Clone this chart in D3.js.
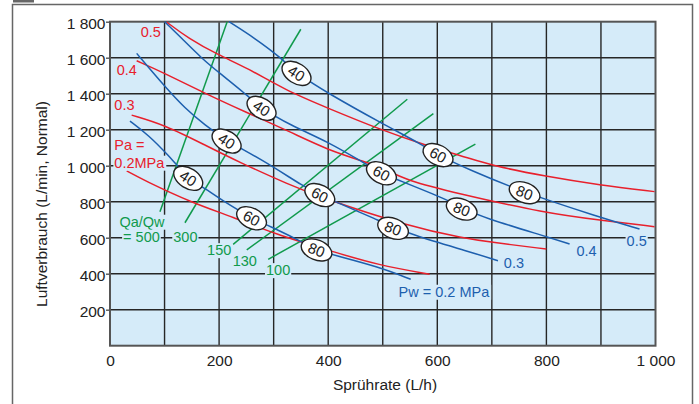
<!DOCTYPE html>
<html>
<head>
<meta charset="utf-8">
<script src="https://cdn.jsdelivr.net/npm/d3@7"></script>
<style>
  body { margin: 0; background: #fff; }
  svg { display: block; font-family: "Liberation Sans", Arial, sans-serif; }
</style>
</head>
<body>
<svg id="chart" width="699" height="404"></svg>
<script>
// ---- data (x = Sprührate L/h, y = Luftverbrauch L/min) ----
const xTicks = [0, 200, 400, 600, 800, 1000];
const yTicks = [200, 400, 600, 800, 1000, 1200, 1400, 1600, 1800];

// water pressure curves (blue)
const pwLevels = ["0.2", "0.3", "0.4", "0.5"];
const pw02 = [[36.6,1248],[70.1,1171],[106.8,1059],[143.4,930],[174,874],[204.6,809],[259.5,708],[308.2,643],[351.1,578],[378.6,532],[409,504],[491.4,439],[551.3,369]];
const pw03 = [[48.9,1624],[100.7,1439],[137.4,1319],[174,1226],[213.7,1137],[275,1041],[360.5,874],[384.6,837],[491.4,698],[552.6,615],[659.3,522],[711.2,472]];
const pw04 = [[100.2,1800],[131.3,1708],[167.9,1597],[201.5,1513],[247.3,1402],[277.8,1319],[329.7,1226],[399.8,1133],[467,1013],[497.6,958],[528,921],[619.6,810],[650,759],[683.7,713],[799.8,606],[842.5,565]];
const pw05 = [[218,1800],[265.6,1708],[314.5,1597],[341.9,1513],[399.8,1402],[497.6,1236],[573.8,1115],[601.3,1059],[659.3,976],[760,850],[894.3,717],[970.7,648]];

// air pressure curves (red)
const paLevels = ["0.2", "0.3", "0.4", "0.5"];
const pa02 = [[30.6,971],[61,921],[152.6,791],[225.8,715],[299.1,624],[409,522],[491.4,448],[586,397]];
const pa03 = [[39.7,1281],[100.7,1226],[174,1115],[235,1022],[329.7,893],[384.6,826],[549.5,661],[650.2,597],[696,576],[799.8,537]];
const pa04 = [[48.9,1583],[100.7,1513],[174,1402],[247.3,1300],[329.7,1189],[399.8,1087],[467,1022],[497.6,989],[546.5,915],[632,850],[799.8,735],[897.4,698],[998.2,661]];
const pa05 = [[103.8,1798],[143.4,1708],[198.4,1615],[253.3,1541],[320.5,1421],[399.8,1319],[497.6,1198],[576.9,1115],[659.3,1041],[696,1004],[799.8,939],[897.4,893],[998.2,856]];

// Qa/Qw ratio lines (green): [start, end]
const ratioNames = ["500", "300", "150", "130", "100"];
const ratioLines = [
  [[91.6,744],[214.8,1800]],
  [[137.4,683],[349.8,1758]],
  [[225.8,563],[545,1369]],
  [[250.7,532],[592.8,1289]],
  [[290,480],[669.8,1120]]
];

// oval markers on the blue curves
const markerVals = [40, 60, 80];
const markers05 = [[341.9,1513],[601.3,1059],[760,850]];
const markers04 = [[277.8,1319],[497.6,958],[644.7,759]];
const markers03 = [[213.7,1137],[384.6,837],[518.9,652]];
const markers02 = [[143.4,930],[259.5,708],[378.6,532]];

// ---- drawing ----
const svg = d3.select("#chart");
const x = d3.scaleLinear().domain([0, 1000]).range([110, 655.5]);
const y = d3.scaleLinear().domain([0, 1800]).range([345.7, 21.7]);

const blue = "#1d5fae", red = "#e8202c", green = "#109a4c";
const bg = "#d5ebf9";
const fmt = d3.formatLocale({decimal: ".", thousands: " ", grouping: [3], currency: ["", ""]}).format(",");

// outer frame and cropped title bar
svg.append("rect").attr("x", 12.5).attr("y", 4.5).attr("width", 680).attr("height", 420)
   .attr("fill", "none").attr("stroke", "#666").attr("stroke-width", 1.5);
svg.append("rect").attr("x", 13).attr("y", 0).attr("width", 21).attr("height", 2.5).attr("fill", "#666");

// plot background
svg.append("rect").attr("x", x(0)).attr("y", y(1800))
   .attr("width", x(1000) - x(0)).attr("height", y(0) - y(1800)).attr("fill", bg);

// grid
const grid = svg.append("g").attr("stroke", "#262626").attr("stroke-width", 1.4);
grid.selectAll(".vg").data(d3.range(100, 1000, 100)).join("line")
    .attr("x1", d => x(d)).attr("x2", d => x(d)).attr("y1", y(0)).attr("y2", y(1800));
grid.selectAll(".hg").data(yTicks.slice(0, -1)).join("line")
    .attr("x1", x(0)).attr("x2", x(1000)).attr("y1", d => y(d)).attr("y2", d => y(d));

// frame of plot
svg.append("rect").attr("x", x(0)).attr("y", y(1800))
   .attr("width", x(1000) - x(0)).attr("height", y(0) - y(1800))
   .attr("fill", "none").attr("stroke", "#555").attr("stroke-width", 2);

// axes
const yAxis = svg.append("g").attr("transform", `translate(${x(0)},0)`)
  .call(d3.axisLeft(y).tickValues(yTicks).tickFormat(fmt).tickSize(4).tickPadding(0.5));
const xAxis = svg.append("g").attr("transform", `translate(0,${y(0)})`)
  .call(d3.axisBottom(x).tickValues(xTicks).tickFormat(fmt).tickSize(0).tickPadding(9));
[yAxis, xAxis].forEach(a => {
  a.select(".domain").remove();
  a.selectAll("line").attr("stroke", "#555").attr("stroke-width", 1.4);
  a.selectAll("text").attr("font-size", 15.5).attr("fill", "#222")
   .attr("font-family", "Liberation Sans, Arial, sans-serif");
});
yAxis.selectAll("text").attr("dy", "0.45em");
xAxis.selectAll("text").attr("dy", "0.71em");

svg.append("text").attr("x", 385).attr("y", 390).attr("text-anchor", "middle")
   .attr("font-size", 15.5).attr("fill", "#222").text("Sprührate (L/h)");
svg.append("text").attr("transform", "translate(47,204) rotate(-90)").attr("text-anchor", "middle")
   .attr("font-size", 15.5).attr("fill", "#222").text("Luftverbrauch (L/min, Normal)");

// curves
const line = d3.line().x(d => x(d[0])).y(d => y(d[1])).curve(d3.curveBasis);

svg.append("g").selectAll("path").data(ratioLines).join("path")
   .attr("d", d3.line().x(d => x(d[0])).y(d => y(d[1])))
   .attr("fill", "none").attr("stroke", green).attr("stroke-width", 1.5);

svg.append("g").selectAll("path").data([pa02, pa03, pa04, pa05]).join("path")
   .attr("d", line).attr("fill", "none").attr("stroke", red).attr("stroke-width", 1.5);

svg.append("g").selectAll("path").data([pw02, pw03, pw04, pw05]).join("path")
   .attr("d", line).attr("fill", "none").attr("stroke", blue).attr("stroke-width", 1.5);

// oval markers
const tilt = {40: 33, 60: 28, 80: 22};
const allMarkers = [markers02, markers03, markers04, markers05]
  .flatMap(list => list.map((p, i) => ({p, v: markerVals[i]})));
const mk = svg.append("g").selectAll("g").data(allMarkers).join("g")
  .attr("transform", d => `translate(${x(d.p[0])},${y(d.p[1])}) rotate(${tilt[d.v]})`);
mk.append("ellipse").attr("rx", 16).attr("ry", 10)
  .attr("fill", "#fff").attr("stroke", "#222").attr("stroke-width", 1.4);
mk.append("text").attr("text-anchor", "middle").attr("dy", 5.3).attr("font-size", 15)
  .attr("fill", "#222").text(d => d.v);

// text labels with background patches
function label(tx, ty, txt, color, anchor) {
  const t = svg.append("text").attr("x", tx).attr("y", ty)
    .attr("text-anchor", anchor || "start").attr("font-size", 14.5).attr("fill", color).text(txt);
  const b = t.node().getBBox();
  svg.insert("rect", () => t.node())
    .attr("x", b.x - 1).attr("y", b.y + 1).attr("width", b.width + 2).attr("height", b.height - 1)
    .attr("fill", bg);
}

label(x(56.3), y(1717), "0.5", red);
label(x(12.3), y(1504), "0.4", red);
label(x(8), y(1309), "0.3", red);
label(x(8), y(1087), "Pa =", red);
label(x(8), y(989), "0.2MPa", red);

label(x(58.7), y(661), "Qa/Qw", green, "middle");
label(x(24), y(578), "= 500", green);
label(x(116), y(578), "300", green);
label(x(178), y(503), "150", green);
label(x(225), y(441), "130", green);
label(x(286), y(392), "100", green);

label(x(529), y(272), "Pw = 0.2 MPa", blue);
label(x(722), y(430), "0.3", blue);
label(x(855), y(497), "0.4", blue);
label(x(947), y(555), "0.5", blue);
</script>
</body>
</html>
